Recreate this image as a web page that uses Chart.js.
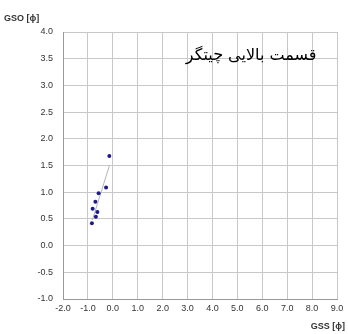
<!DOCTYPE html>
<html>
<head>
<meta charset="utf-8">
<script src="https://cdn.jsdelivr.net/npm/chart.js@4/dist/chart.umd.min.js"></script>
<style>
  html, body { margin: 0; padding: 0; background: #ffffff; }
  #wrap { width: 348px; height: 334px; position: relative; }
</style>
</head>
<body>
<div id="wrap"><canvas id="c" width="348" height="334"></canvas></div>
<script>
// Sorting measurements: GSS (x) vs GSO (y), both in phi units
const gssValues = [-0.14, -0.27, -0.57, -0.70, -0.81, -0.62, -0.68, -0.84];
const gsoValues = [1.68, 1.09, 0.98, 0.82, 0.69, 0.63, 0.54, 0.42];

// Fitted trend line end points
const trendX = [-0.82, -0.13];
const trendY = [0.48, 1.51];

// Axis ranges and labels
const xRange = [-2, 9];
const yRange = [-1, 4];
const xTitle = 'GSS [ϕ]';
const yTitle = 'GSO [ϕ]';
const noteText = 'قسمت بالایی چیتگر';
const notePos = [5.55, 3.55];

const scatterPoints = gssValues.map((x, i) => ({ x: x, y: gsoValues[i] }));
const trendPoints = trendX.map((x, i) => ({ x: x, y: trendY[i] }));

const labelFont = { family: "'Liberation Sans', Arial, sans-serif", size: 9 };

const decorations = {
  id: 'decorations',
  afterDraw(chart) {
    const ctx = chart.ctx;
    const xs = chart.scales.x, ys = chart.scales.y;
    ctx.save();
    ctx.fillStyle = '#333333';
    ctx.font = "bold 9px 'Liberation Sans', Arial, sans-serif";
    ctx.textBaseline = 'alphabetic';
    ctx.textAlign = 'left';
    ctx.fillText(yTitle, 4, 21);
    ctx.textAlign = 'right';
    ctx.fillText(xTitle, 345, 329);
    ctx.fillStyle = '#000000';
    ctx.font = "16px 'DejaVu Sans', sans-serif";
    ctx.textAlign = 'center';
    ctx.textBaseline = 'middle';
    ctx.direction = 'rtl';
    ctx.fillText(noteText, xs.getPixelForValue(notePos[0]), ys.getPixelForValue(notePos[1]));
    ctx.restore();
  }
};

new Chart(document.getElementById('c'), {
  type: 'scatter',
  data: {
    datasets: [
      {
        data: trendPoints,
        showLine: true,
        borderColor: '#b4b4b4',
        borderWidth: 1,
        pointRadius: 0,
        order: 2
      },
      {
        data: scatterPoints,
        backgroundColor: '#1c1c8e',
        borderColor: '#1c1c8e',
        pointRadius: 2,
        borderWidth: 0,
        order: 1
      }
    ]
  },
  options: {
    responsive: false,
    animation: false,
    devicePixelRatio: 1,
    layout: { padding: { top: 32, right: 11, bottom: 0, left: 0 } },
    plugins: { legend: { display: false }, tooltip: { enabled: false } },
    scales: {
      x: {
        type: 'linear',
        min: xRange[0], max: xRange[1],
        afterFit(s) { s.height = 35; },
        grid: { color: '#c8c8c8', drawTicks: false },
        border: { color: '#999999' },
        ticks: {
          stepSize: 1, padding: 4, color: '#333333', font: labelFont,
          maxRotation: 0, autoSkip: false,
          callback: v => v.toFixed(1)
        }
      },
      y: {
        type: 'linear',
        min: yRange[0], max: yRange[1],
        afterFit(s) { s.width = 63; },
        grid: { color: '#c8c8c8', drawTicks: false },
        border: { color: '#999999' },
        ticks: {
          stepSize: 0.5, padding: 10, color: '#333333', font: labelFont,
          autoSkip: false,
          callback: v => v.toFixed(1)
        }
      }
    }
  },
  plugins: [decorations]
});
</script>
</body>
</html>
